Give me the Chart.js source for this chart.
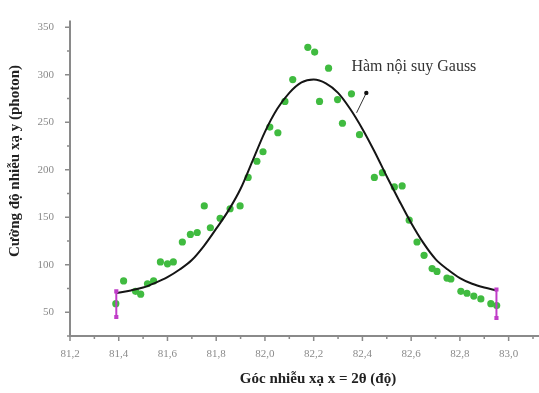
<!DOCTYPE html>
<html>

<head>
    <meta charset="utf-8">
    <title>Gauss fit</title>
    <style>
        body {
            margin: 0;
            background: #ffffff;
        }
    </style>
    <script src="https://cdn.jsdelivr.net/npm/chart.js@4"></script>
</head>

<body>
    <canvas id="gaussChart" width="539" height="393"></canvas>

    <script>
        // Axis ticks
        const xTicks = [81.2, 81.4, 81.6, 81.8, 82.0, 82.2, 82.4, 82.6, 82.8, 83.0];
        const yTicks = [50, 100, 150, 200, 250, 300, 350];

        // Measured points (green)
        const measuredX = [81.388, 81.42, 81.469, 81.49, 81.518, 81.543, 81.571, 81.60, 81.624, 81.661,
            81.694, 81.722, 81.751, 81.776, 81.816, 81.857, 81.898, 81.931, 81.967, 81.992,
            82.02, 82.053, 82.082, 82.114, 82.176, 82.204, 82.224, 82.261, 82.298, 82.318,
            82.355, 82.388, 82.449, 82.482, 82.531, 82.563, 82.592, 82.624, 82.653, 82.686,
            82.706, 82.747, 82.763, 82.804, 82.829, 82.857, 82.886, 82.927, 82.951];
        const measuredY = [59, 83, 72, 69, 80, 83, 103, 101, 103, 124,
            132, 134, 162, 139, 149, 159, 162, 192, 209, 219,
            245, 239, 272, 295, 329, 324, 272, 307, 274, 249,
            280, 237, 192, 197, 182, 183, 147, 124, 110, 96,
            93, 86, 85, 72, 70, 67, 64, 59, 57];

        // Fitted curve (black)
        const fitX = [81.39, 81.45, 81.5, 81.55, 81.6, 81.65, 81.7, 81.75, 81.8, 81.85, 81.9, 81.95,
            82.0, 82.05, 82.1, 82.15, 82.2, 82.25, 82.3, 82.35, 82.4, 82.45, 82.5, 82.55, 82.6,
            82.65, 82.7, 82.75, 82.8, 82.85, 82.9, 82.95];
        const fitY = [70, 73, 76, 81, 87, 95, 105, 120, 138, 157, 180, 210,
            240, 264, 281, 292, 295, 291, 281, 264, 243, 219, 193, 168, 144,
            123, 106, 95, 86, 80, 76, 73];

        // End bars (magenta)
        const endBarX = [81.39, 82.95];
        const endBarTop = [72, 74];
        const endBarBottom = [45, 44];

        const axisColor = '#8a8a8a';
        const serif = "'Liberation Serif', 'DejaVu Serif', serif";

        const pairs = (xs, ys) => xs.map((v, i) => ({ x: v, y: ys[i] }));

        const endBars = endBarX.map((v, i) => ({
            data: [{ x: v, y: endBarTop[i] }, { x: v, y: endBarBottom[i] }],
            showLine: true,
            borderColor: '#c03cc8',
            borderWidth: 2,
            pointRadius: [1.5, 1.5],
            pointStyle: 'rect',
            pointBackgroundColor: '#c03cc8',
            pointBorderColor: '#c03cc8',
            order: 0
        }));

        // minor ticks, axis extensions, titles and the label with its arrow
        const decorations = {
            id: 'decorations',
            afterDraw(chart) {
                const { ctx, chartArea, scales: { x, y } } = chart;
                ctx.save();
                ctx.strokeStyle = axisColor;
                ctx.lineWidth = 1.5;
                ctx.beginPath();
                xTicks.forEach(v => {
                    const px = x.getPixelForValue(v);
                    ctx.moveTo(px, chartArea.bottom);
                    ctx.lineTo(px, chartArea.bottom + 5);
                    const mid = x.getPixelForValue(v + 0.1);
                    ctx.moveTo(mid, chartArea.bottom);
                    ctx.lineTo(mid, chartArea.bottom + 3);
                });
                yTicks.forEach(v => {
                    const py = y.getPixelForValue(v);
                    ctx.moveTo(chartArea.left, py);
                    ctx.lineTo(chartArea.left - 5, py);
                    const mid = y.getPixelForValue(v - 25);
                    ctx.moveTo(chartArea.left, mid);
                    ctx.lineTo(chartArea.left - 3, mid);
                });
                ctx.stroke();

                ctx.lineWidth = 2;
                ctx.beginPath();
                ctx.moveTo(chartArea.right, chartArea.bottom);
                ctx.lineTo(chart.width, chartArea.bottom);
                ctx.moveTo(chartArea.left, chartArea.top);
                ctx.lineTo(chartArea.left, chartArea.top - 2);
                ctx.stroke();

                // axis titles
                ctx.fillStyle = '#222';
                ctx.font = 'bold 15px ' + serif;
                ctx.textAlign = 'center';
                ctx.textBaseline = 'middle';
                ctx.fillText('Góc nhiễu xạ x = 2θ (độ)', 318, 379);
                ctx.save();
                ctx.translate(15, 161);
                ctx.rotate(-Math.PI / 2);
                ctx.fillText('Cường độ nhiễu xạ y (photon)', 0, 0);
                ctx.restore();

                // label with arrow
                const ax0 = x.getPixelForValue(82.376), ay0 = y.getPixelForValue(260);
                const ax1 = x.getPixelForValue(82.416), ay1 = y.getPixelForValue(281);
                ctx.strokeStyle = '#333';
                ctx.lineWidth = 1;
                ctx.beginPath();
                ctx.moveTo(ax0, ay0);
                ctx.lineTo(ax1, ay1);
                ctx.stroke();
                ctx.fillStyle = '#111';
                ctx.beginPath();
                ctx.arc(ax1, ay1, 2.2, 0, Math.PI * 2);
                ctx.fill();

                ctx.fillStyle = '#333';
                ctx.font = '16px ' + serif;
                ctx.textAlign = 'left';
                ctx.fillText('Hàm nội suy Gauss', x.getPixelForValue(82.355), y.getPixelForValue(308));
                ctx.restore();
            }
        };

        new Chart(document.getElementById('gaussChart'), {
            type: 'scatter',
            data: {
                datasets: [{
                    data: pairs(fitX, fitY),
                    showLine: true,
                    borderColor: '#151515',
                    borderWidth: 2,
                    pointRadius: 0,
                    cubicInterpolationMode: 'monotone',
                    order: 1
                }, {
                    data: pairs(measuredX, measuredY),
                    pointRadius: 3.6,
                    pointBackgroundColor: '#40bb40',
                    pointBorderColor: '#40bb40',
                    pointBorderWidth: 0,
                    order: 2
                }, ...endBars]
            },
            options: {
                responsive: false,
                animation: false,
                layout: { padding: { top: 15, right: 4, left: 0, bottom: 0 } },
                plugins: {
                    legend: { display: false },
                    tooltip: { enabled: false }
                },
                scales: {
                    x: {
                        type: 'linear',
                        min: 81.2,
                        max: 83.1,
                        afterFit: s => { s.height = 57; },
                        afterBuildTicks: s => { s.ticks = xTicks.map(v => ({ value: v })); },
                        grid: { display: false, drawTicks: false },
                        border: { display: true, color: axisColor, width: 2 },
                        ticks: {
                            padding: 12,
                            color: axisColor,
                            font: { family: serif, size: 11 },
                            callback: v => v.toFixed(1).replace('.', ',')
                        }
                    },
                    y: {
                        type: 'linear',
                        min: 25,
                        max: 355,
                        afterFit: s => { s.width = 70; },
                        afterBuildTicks: s => { s.ticks = yTicks.map(v => ({ value: v })); },
                        grid: { display: false, drawTicks: false },
                        border: { display: true, color: axisColor, width: 2 },
                        ticks: {
                            padding: 16,
                            color: axisColor,
                            font: { family: serif, size: 11 },
                            callback: v => String(v)
                        }
                    }
                }
            },
            plugins: [decorations]
        });
    </script>
</body>

</html>
